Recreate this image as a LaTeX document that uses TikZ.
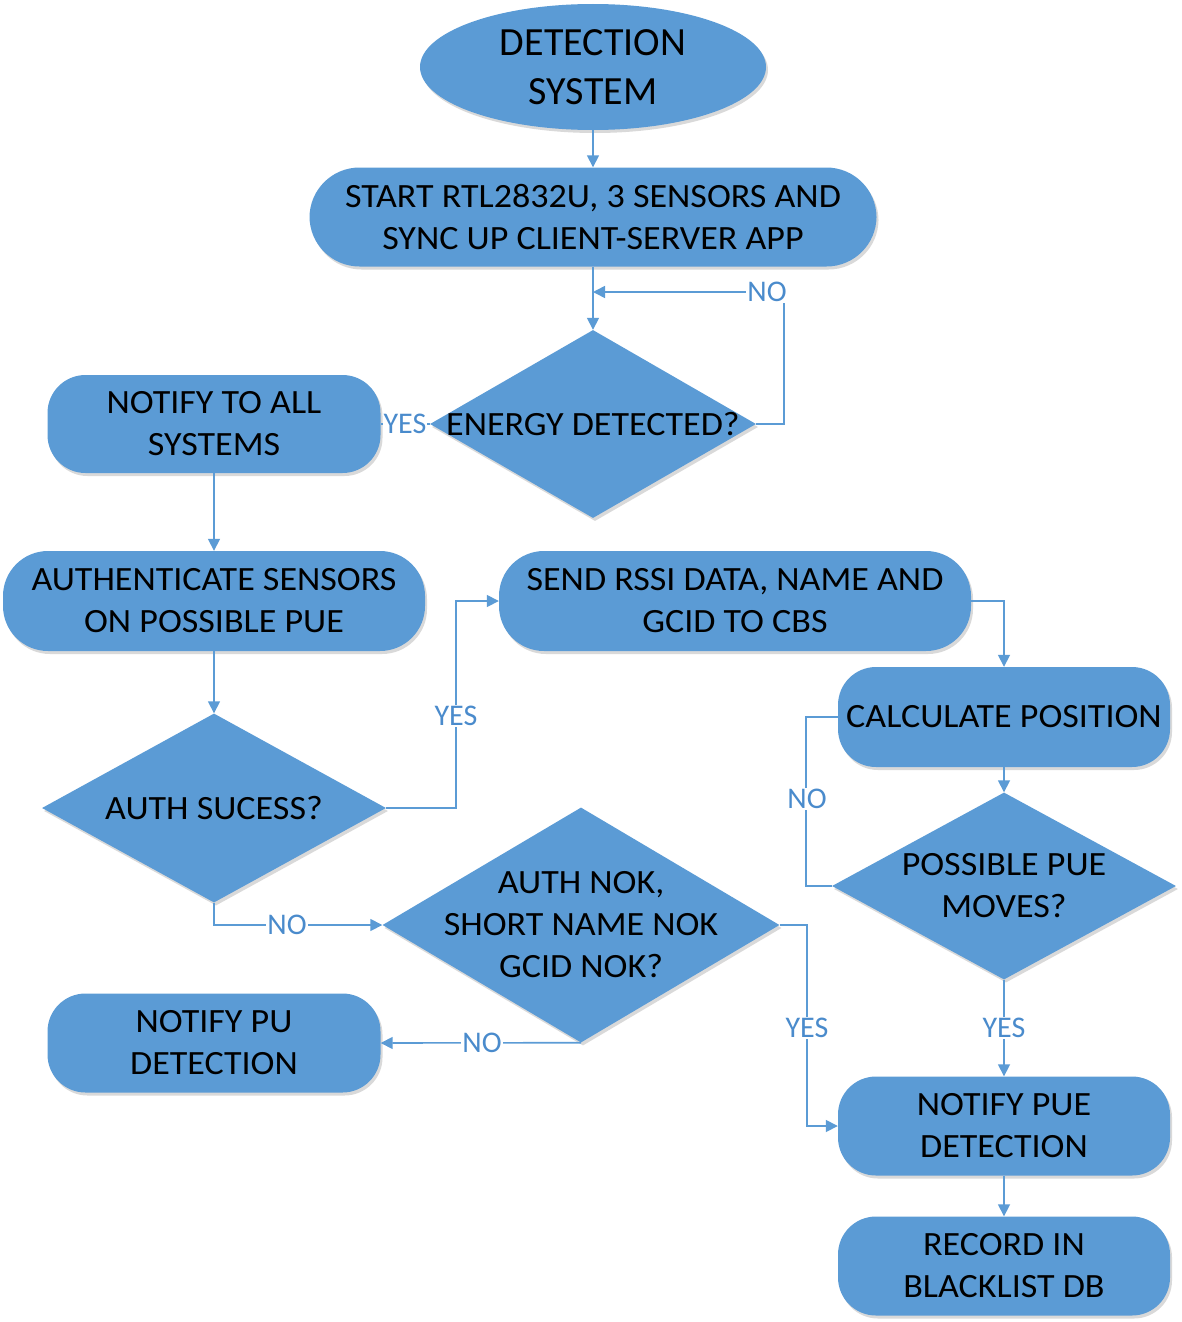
\documentclass[tikz,border=0pt]{standalone}
\usepackage{fontspec}
\setmainfont{Carlito}
\newfontfamily\boxfont{Carlito}[FakeStretch=1.06]
\usetikzlibrary{shapes.geometric,arrows.meta,shadows}
\definecolor{fc}{HTML}{5B9BD5}
\definecolor{lbl}{HTML}{4A8BCC}
\tikzset{
  shd/.style={drop shadow={shadow xshift=2pt,shadow yshift=-3pt,opacity=0.15,fill=black}},
  boxnode/.style={shape=rectangle,rounded corners=38pt,fill=fc,shd,inner sep=0pt,align=center,
     font=\boxfont\fontsize{34}{42}\selectfont,text=black},
  dianode/.style={shape=diamond,fill=fc,shd,inner sep=0pt},
  dtext/.style={align=center,font=\boxfont\fontsize{34}{42}\selectfont,text=black,inner sep=0pt},
  arr/.style={draw=fc,line width=1.6pt,-{Triangle[length=12pt,width=12pt]}},
  ln/.style={draw=fc,line width=1.6pt},
  lab/.style={fill=white,text=lbl,inner sep=1pt,font=\fontsize{30}{36}\selectfont}
}
\begin{document}
\begin{tikzpicture}[x=1pt,y=-1pt]
\useasboundingbox (0,0) rectangle (1181,1322);
% nodes
\node[shape=ellipse,fill=fc,shd,minimum width=346pt,minimum height=126pt,inner sep=0pt,align=center,
  font=\fontsize{40}{49}\selectfont] (ds) at (593,67) {DETECTION\\SYSTEM};
\node[boxnode,rounded corners=50pt,minimum width=567pt,minimum height=99pt] (st) at (593,217)
  {START RTL2832U, 3 SENSORS AND\\SYNC UP CLIENT-SERVER APP};
\node[dianode,minimum width=326pt,minimum height=188pt] (en) at (593,424) {};
\node[dtext] (ent) at (593,424) {ENERGY DETECTED?};
\node[boxnode,minimum width=333pt,minimum height=98pt] (na) at (214,424) {NOTIFY TO ALL\\SYSTEMS};
\node[boxnode,rounded corners=45pt,minimum width=422pt,minimum height=100pt] (au) at (214,601)
  {AUTHENTICATE SENSORS\\ON POSSIBLE PUE};
\node[boxnode,rounded corners=45pt,minimum width=472pt,minimum height=100pt] (se) at (735,601)
  {SEND RSSI DATA, NAME AND\\GCID TO CBS};
\node[boxnode,minimum width=332pt,minimum height=100pt] (ca) at (1004,717) {CALCULATE POSITION};
\node[dianode,minimum width=344pt,minimum height=189pt] (as) at (214,808) {};
\node[dtext] (ast) at (214,808) {AUTH SUCESS?};
\node[dianode,minimum width=344pt,minimum height=187pt] (pm) at (1004,886) {};
\node[dtext] (pmt) at (1004,886) {POSSIBLE PUE\\MOVES?};
\node[dianode,minimum width=397pt,minimum height=235pt] (nk) at (581,925) {};
\node[dtext] (nkt) at (581,925) {AUTH NOK,\\SHORT NAME NOK\\GCID NOK?};
\node[boxnode,minimum width=333pt,minimum height=99pt] (pu) at (214,1043) {NOTIFY PU\\DETECTION};
\node[boxnode,minimum width=332pt,minimum height=99pt] (np) at (1004,1126) {NOTIFY PUE\\DETECTION};
\node[boxnode,minimum width=332pt,minimum height=99pt] (rb) at (1004,1266) {RECORD IN\\BLACKLIST DB};
% connectors
\coordinate (j1) at (593,292);
\draw[arr] (ds) -- (st);
\draw[arr] (st) -- (en.north);
\draw[arr] (en.east) -- ++(28,0) |- (j1);
\node[lab] (lno1) at (767,292) {NO};
\draw[ln] (en.west) -- (na.east);
\node[lab] (lyes1) at (405,424) {YES};
\draw[arr] (na) -- (au);
\draw[arr] (au) -- (as.north);
\draw[arr] (as.east) -- ++(70,0) |- (se.west);
\node[lab] (lyes2) at (456,716) {YES};
\draw[arr] (se.east) -| (ca.north);
\draw[arr] (ca) -- (pm.north);
\draw[ln] (pm.west) -- ++(-26,0) |- (ca.west);
\node[lab] (lno2) at (807,799) {NO};
\draw[arr] (pm.south) -- (np.north);
\node[lab] (lyes3) at (1004,1028) {YES};
\draw[arr] (np) -- (rb);
\draw[arr] (as.south) |- (nk.west);
\node[lab] (lno3) at (287,925) {NO};
\draw[arr] (nk.east) -- ++(27,0) |- (np.west);
\node[lab] (lyes4) at (807,1028) {YES};
\draw[arr] (nk.south) -- (pu.east);
\node[lab] (lno4) at (482,1043) {NO};
\end{tikzpicture}
\end{document}
